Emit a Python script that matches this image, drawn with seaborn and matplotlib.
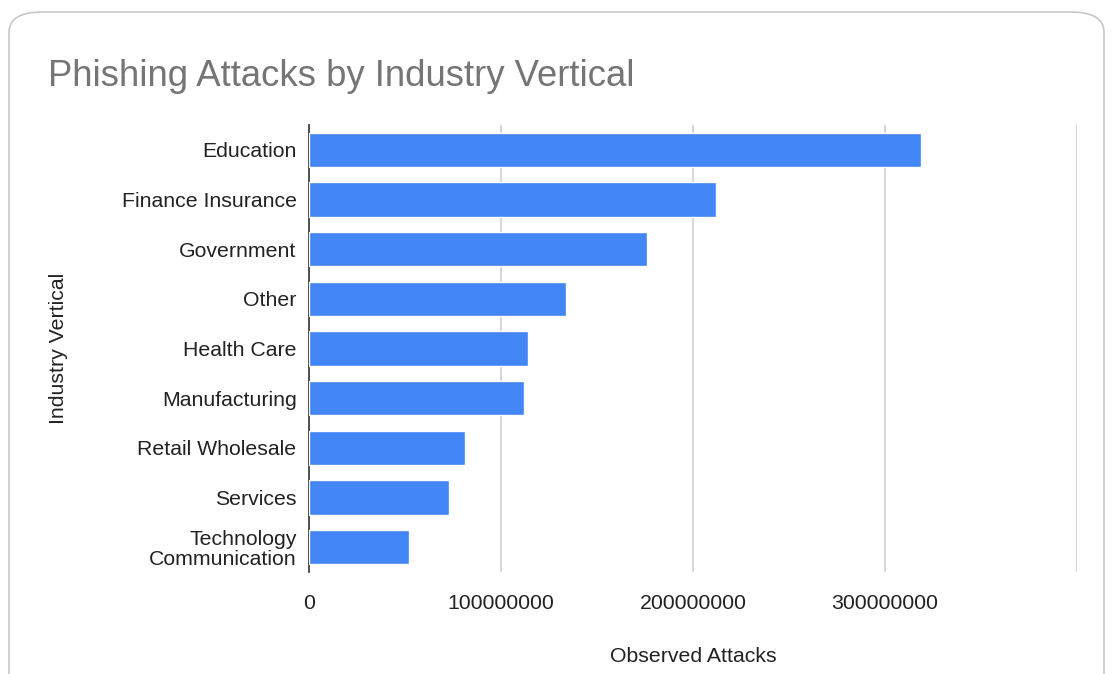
import matplotlib
matplotlib.use("Agg")
import matplotlib.pyplot as plt
import seaborn as sns
import pandas as pd
from matplotlib.patches import FancyBboxPatch

categories = ["Education", "Finance Insurance", "Government", "Other", "Health Care",
              "Manufacturing", "Retail Wholesale", "Services", "Technology\nCommunication"]
values = [319000000, 212000000, 176000000, 134000000, 114000000,
          112000000, 81000000, 73000000, 52000000]
x_ticks = [0, 100000000, 200000000, 300000000, 400000000]
x_tick_labels = ["0", "100000000", "200000000", "300000000", ""]

sns.set_theme(style="white")
plt.rcParams["font.family"] = ["Liberation Sans", "DejaVu Sans"]

W, H = 1113, 674
fig = plt.figure(figsize=(W / 100, H / 100), dpi=100)
fig.patch.set_facecolor("white")

# card border (extends past the bottom edge like the cropped screenshot)
card = FancyBboxPatch((9 / W, 1 - 700 / H), (1104 - 9) / W, (700 - 12) / H,
                      boxstyle="round,pad=0,rounding_size=0.03",
                      transform=fig.transFigure, facecolor="white",
                      edgecolor="#c8c8c8", linewidth=1.2, zorder=-5)
fig.patches.append(card)

ax = fig.add_axes([309 / W, 1 - 572 / H, (1077 - 309) / W, (572 - 125) / H])
df = pd.DataFrame({"Industry": categories, "Attacks": values})
sns.barplot(data=df, x="Attacks", y="Industry", orient="h", color="#4285F4",
            saturation=1, width=0.69, ax=ax, zorder=3)

ax.set_xlim(0, 400000000)
ax.set_xticks(x_ticks)
ax.set_xticklabels(x_tick_labels)
ax.grid(axis="x", color="#d0d0d0", linewidth=1.2, zorder=0)
ax.grid(axis="y", visible=False)
for s in ["top", "right", "bottom"]:
    ax.spines[s].set_visible(False)
ax.spines["left"].set_color("#333333")
ax.spines["left"].set_linewidth(1.2)
ax.set_facecolor("none")
ax.tick_params(axis="x", length=0, pad=16, labelsize=15.3, labelcolor="#222222")
ax.tick_params(axis="y", length=0, pad=9, labelsize=15.3, labelcolor="#222222")
for lbl in ax.get_yticklabels():
    lbl.set_horizontalalignment("right")
    lbl.set_multialignment("right")
    lbl.set_linespacing(1.05)

ax.set_xlabel("Observed Attacks", fontsize=15.3, color="#222222", labelpad=24)
ax.set_ylabel("Industry Vertical", fontsize=15.3, color="#222222")
ax.yaxis.set_label_coords((68 - 309) / (1077 - 309), 0.5)

fig.text(48 / W, 1 - 76 / H, "Phishing Attacks by Industry Vertical",
         fontsize=26.3, color="#757575", ha="left", va="center")

fig.savefig("out.png", dpi=100, facecolor="white")
